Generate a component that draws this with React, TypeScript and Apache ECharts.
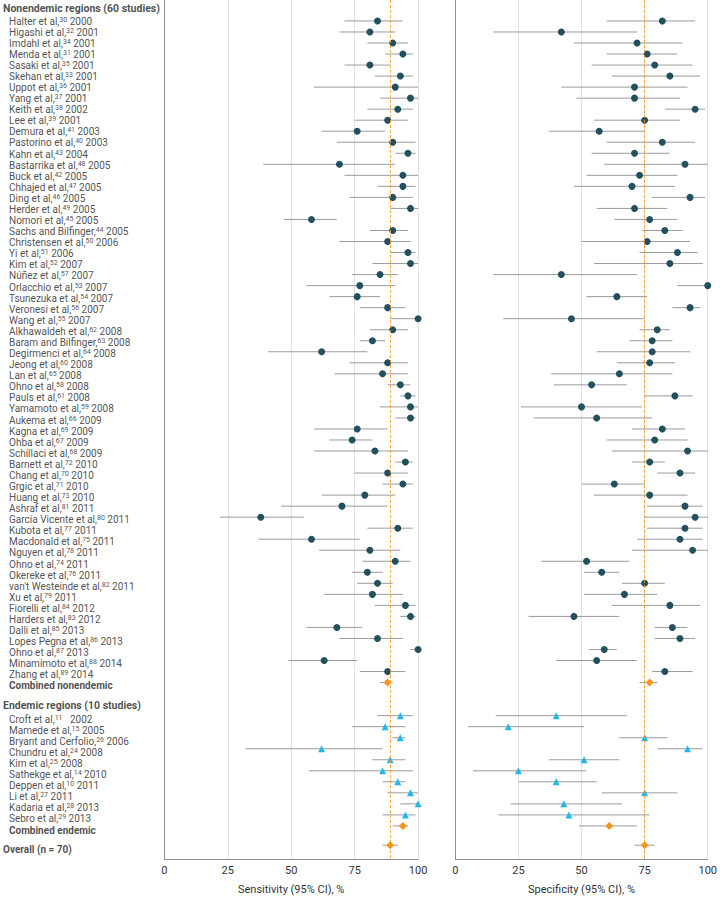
import React, { useEffect, useRef } from "react";
import * as echarts from "echarts";

// ---------- Data ----------
const nonendemicAuthors = [
  "Halter et al,", "Higashi et al,", "Imdahl et al,", "Menda et al,", "Sasaki et al,", "Skehan et al,",
  "Uppot et al,", "Yang et al,", "Keith et al,", "Lee et al,", "Demura et al,", "Pastorino et al,",
  "Kahn et al,", "Bastarrika et al,", "Buck et al,", "Chhajed et al,", "Ding et al,", "Herder et al,",
  "Nomori et al,", "Sachs and Bilfinger,", "Christensen et al,", "Yi et al,", "Kim et al,", "Núñez et al,",
  "Orlacchio et al,", "Tsunezuka et al,", "Veronesi et al,", "Wang et al,", "Alkhawaldeh et al,",
  "Baram and Bilfinger,", "Degirmenci et al,", "Jeong et al,", "Lan et al,", "Ohno et al,", "Pauls et al,",
  "Yamamoto et al,", "Aukema et al,", "Kagna et al,", "Ohba et al,", "Schillaci et al,", "Barnett et al,",
  "Chang et al,", "Grgic et al,", "Huang et al,", "Ashraf et al,", "García Vicente et al,", "Kubota et al,",
  "Macdonald et al,", "Nguyen et al,", "Ohno et al,", "Okereke et al,", "van't Westeinde et al,", "Xu et al,",
  "Fiorelli et al,", "Harders et al,", "Dalli et al,", "Lopes Pegna et al,", "Ohno et al,", "Minamimoto et al,",
  "Zhang et al,",
];
const nonendemicRefs = [
  30, 32, 34, 31, 35, 33, 36, 37, 38, 39, 41, 40, 43, 48, 42, 47, 46, 49, 45, 44, 50, 51, 52, 57, 53, 54, 56, 55,
  62, 63, 64, 60, 65, 58, 61, 59, 66, 69, 67, 68, 72, 70, 71, 73, 81, 80, 77, 75, 78, 74, 76, 82, 79, 84, 83, 85,
  86, 87, 88, 89,
];
const nonendemicYears = [
  2000, 2001, 2001, 2001, 2001, 2001, 2001, 2001, 2002, 2001, 2003, 2003, 2004, 2005, 2005, 2005, 2005, 2005,
  2005, 2005, 2006, 2006, 2007, 2007, 2007, 2007, 2007, 2007, 2008, 2008, 2008, 2008, 2008, 2008, 2008, 2008,
  2009, 2009, 2009, 2009, 2010, 2010, 2010, 2010, 2011, 2011, 2011, 2011, 2011, 2011, 2011, 2011, 2011, 2012,
  2012, 2013, 2013, 2013, 2014, 2014,
];
// [estimate, lower, upper]
const nonendemicSensitivity = [
  [84, 71, 94], [81, 69, 91], [90, 80, 96], [94, 87, 98], [81, 71, 89], [93, 83, 98], [91, 59, 100], [97, 85, 100],
  [92, 80, 98], [88, 75, 96], [76, 62, 87], [90, 68, 99], [96, 91, 99], [69, 39, 91], [94, 71, 100], [94, 84, 99],
  [90, 73, 98], [97, 89, 100], [58, 47, 68], [90, 81, 96], [88, 69, 97], [96, 89, 99], [97, 82, 100], [85, 74, 92],
  [77, 56, 91], [76, 65, 85], [88, 77, 95], [100, 89, 100], [90, 81, 96], [82, 77, 87], [62, 41, 80], [88, 73, 96],
  [86, 67, 96], [93, 88, 97], [96, 93, 99], [97, 85, 100], [97, 91, 99], [76, 59, 88], [74, 65, 82], [83, 59, 96],
  [95, 91, 98], [88, 75, 96], [94, 86, 98], [79, 62, 91], [70, 46, 88], [38, 22, 55], [92, 80, 98], [58, 37, 77],
  [81, 61, 93], [91, 78, 97], [80, 74, 86], [84, 76, 90], [82, 63, 94], [95, 83, 99], [97, 93, 99], [68, 56, 78],
  [84, 69, 94], [100, 97, 100], [63, 49, 76], [88, 77, 95],
];
const nonendemicSpecificity = [
  [82, 60, 95], [42, 15, 72], [72, 47, 90], [76, 60, 88], [79, 54, 94], [85, 62, 97], [71, 42, 92], [71, 48, 89],
  [95, 83, 99], [75, 55, 89], [57, 37, 75], [82, 60, 95], [71, 54, 85], [91, 59, 100], [73, 52, 88], [70, 47, 87],
  [93, 78, 99], [71, 56, 84], [77, 63, 88], [83, 74, 90], [76, 50, 93], [88, 73, 96], [85, 55, 98], [42, 15, 72],
  [100, 88, 100], [64, 52, 76], [93, 86, 97], [46, 19, 75], [80, 73, 85], [78, 69, 86], [78, 56, 93], [77, 64, 87],
  [65, 38, 86], [54, 39, 68], [87, 75, 94], [50, 26, 74], [56, 31, 78], [82, 70, 91], [79, 60, 92], [92, 62, 100],
  [77, 70, 83], [89, 80, 95], [63, 50, 75], [77, 55, 92], [91, 76, 98], [95, 75, 100], [91, 76, 98], [89, 72, 98],
  [94, 70, 100], [52, 34, 69], [58, 51, 65], [75, 66, 83], [67, 51, 80], [85, 62, 97], [47, 29, 65], [86, 79, 92],
  [89, 79, 95], [59, 53, 64], [56, 40, 72], [83, 78, 94],
];
const combinedNonendemicSens = [88, 85, 90];
const combinedNonendemicSpec = [77, 73, 80];

const endemicAuthors = [
  "Croft et al,", "Mamede et al,", "Bryant and Cerfolio,", "Chundru et al,", "Kim et al,", "Sathekge et al,",
  "Deppen et al,", "Li et al,", "Kadaria et al,", "Sebro et al,",
];
const endemicRefs = [11, 15, 26, 24, 25, 14, 10, 27, 28, 29];
const endemicYears = [2002, 2005, 2006, 2008, 2008, 2010, 2011, 2011, 2013, 2013];
const endemicSensitivity = [
  [93, 84, 98], [87, 74, 95], [93, 90, 95], [62, 32, 86], [89, 82, 95], [86, 57, 98], [92, 86, 95], [97, 88, 100],
  [100, 93, 100], [95, 86, 99],
];
const endemicSpecificity = [
  [40, 16, 68], [21, 5, 51], [75, 65, 84], [92, 80, 98], [51, 37, 65], [25, 7, 52], [40, 25, 56], [75, 58, 88],
  [43, 22, 66], [45, 17, 77],
];
const combinedEndemicSens = [94, 90, 96];
const combinedEndemicSpec = [61, 49, 72];
const overallSens = [89, 86, 92];
const overallSpec = [75, 71, 79];

const axisTitles = ["Sensitivity (95% CI), %", "Specificity (95% CI), %"];

// ---------- Styles ----------
const FONT = "Roboto, 'Liberation Sans', sans-serif";
const TEAL = "#22505f";
const BLUE = "#26b7ea";
const ORANGE = "#f7941d";
const CI_GRAY = "#9b9b9b";
const AXIS_GRAY = "#8e8e8e";

type Row = {
  label: string;
  pos: number;
  kind: "header" | "study" | "combined" | "overall";
  marker?: "circle" | "triangle" | "diamond";
  sens?: number[];
  spec?: number[];
};

function buildRows(): Row[] {
  const rows: Row[] = [];
  rows.push({ label: "Nonendemic regions (60 studies)", pos: -1.1, kind: "header" });
  nonendemicAuthors.forEach((a, i) => {
    rows.push({
      label: `${a}{s|${nonendemicRefs[i]}} ${nonendemicYears[i]}`,
      pos: i,
      kind: "study",
      marker: "circle",
      sens: nonendemicSensitivity[i],
      spec: nonendemicSpecificity[i],
    });
  });
  const n = nonendemicAuthors.length;
  rows.push({ label: "Combined nonendemic", pos: n, kind: "combined", marker: "diamond", sens: combinedNonendemicSens, spec: combinedNonendemicSpec });
  rows.push({ label: "Endemic regions (10 studies)", pos: n + 1.8, kind: "header" });
  endemicAuthors.forEach((a, i) => {
    const gap = i === 0 ? "   " : " ";
    rows.push({
      label: `${a}{s|${endemicRefs[i]}}${gap}${endemicYears[i]}`,
      pos: n + 3 + i,
      kind: "study",
      marker: "triangle",
      sens: endemicSensitivity[i],
      spec: endemicSpecificity[i],
    });
  });
  const m = n + 3 + endemicAuthors.length;
  rows.push({ label: "Combined endemic", pos: m, kind: "combined", marker: "diamond", sens: combinedEndemicSens, spec: combinedEndemicSpec });
  rows.push({ label: "Overall (n = 70)", pos: m + 1.75, kind: "overall", marker: "diamond", sens: overallSens, spec: overallSpec });
  return rows;
}

const Y_MIN = -1.9;
const Y_MAX = 76;

export default function App() {
  const ref = useRef<HTMLDivElement>(null);

  useEffect(() => {
    if (!ref.current) return;
    const chart = echarts.init(ref.current, undefined, { renderer: "svg" });
    const rows = buildRows();

    const grids = [
      { left: 0, top: 0, width: 164, height: 863.3 },
      { left: 164.3, top: 0, width: 253.8, height: 863.3 },
      { left: 455.3, top: 0, width: 253, height: 863.3 },
    ];

    const yAxisBase = (gi: number, showLine: boolean) => ({
      type: "value",
      gridIndex: gi,
      inverse: true,
      min: Y_MIN,
      max: Y_MAX,
      axisLine: { show: showLine, onZero: false, lineStyle: { color: AXIS_GRAY, width: 1 } },
      axisTick: { show: false },
      axisLabel: { show: false },
      splitLine: { show: false },
    });

    const xPlotAxis = (gi: number, name: string) => ({
      type: "value",
      gridIndex: gi,
      min: 0,
      max: 100,
      interval: 25,
      name,
      nameLocation: "middle",
      nameGap: 25,
      nameTextStyle: { fontFamily: FONT, fontSize: 11, color: "#333" },
      axisLine: { show: true, onZero: false, lineStyle: { color: AXIS_GRAY, width: 1 } },
      axisTick: { show: false },
      axisLabel: { fontFamily: FONT, fontSize: 11, color: "#333", margin: 6 },
      splitLine: { show: true, lineStyle: { color: "#e2e2e2", width: 1 } },
    });

    const labelData = rows.map((r) => {
      const bold = r.kind !== "study";
      const indent = r.kind === "header" || r.kind === "overall" ? 3 : 9;
      const size = r.kind === "header" ? 10.5 : 10;
      return {
        value: [0, r.pos],
        label: {
          show: true,
          position: "right",
          distance: 0,
          offset: [indent, 0],
          formatter: r.label,
          fontFamily: FONT,
          fontSize: size,
          fontWeight: bold ? "bold" : "normal",
          color: "#222",
          lineHeight: 10,
          rich: {
            s: { fontFamily: FONT, fontSize: 7, lineHeight: 6, verticalAlign: "top", color: "#222" },
          },
        },
      };
    });

    const markerRows = rows.filter((r) => r.marker);

    const ciSeries = (gi: number, key: "sens" | "spec", refVal: number) => ({
      type: "custom",
      xAxisIndex: gi,
      yAxisIndex: gi,
      z: 2,
      silent: true,
      data: markerRows.map((r) => [r.pos, (r as any)[key][1], (r as any)[key][2]]),
      encode: { x: [1, 2], y: 0 },
      renderItem: (params: any, api: any) => {
        const a = api.coord([api.value(1), api.value(0)]);
        const b = api.coord([api.value(2), api.value(0)]);
        return {
          type: "line",
          shape: { x1: a[0], y1: a[1], x2: b[0], y2: b[1] },
          style: { stroke: CI_GRAY, lineWidth: 1 },
        };
      },
      markLine: {
        silent: true,
        symbol: ["none", "none"],
        label: { show: false },
        lineStyle: { type: [3, 2], color: ORANGE, width: 1, opacity: 0.85 },
        data: [{ xAxis: refVal }],
      },
    });

    const pointSeries = (gi: number, key: "sens" | "spec", marker: string, symbol: string, color: string, size: number) => ({
      type: "scatter",
      xAxisIndex: gi,
      yAxisIndex: gi,
      z: 4,
      symbol,
      symbolSize: size,
      itemStyle: { color, opacity: 1 },
      silent: true,
      data: markerRows.filter((r) => r.marker === marker).map((r) => [(r as any)[key][0], r.pos]),
    });

    const series: any[] = [
      {
        type: "scatter",
        xAxisIndex: 0,
        yAxisIndex: 0,
        symbolSize: 0,
        silent: true,
        data: labelData,
      },
    ];
    ([
      [1, "sens", overallSens[0]],
      [2, "spec", overallSpec[0]],
    ] as any[]).forEach(([gi, key, refVal]) => {
      series.push(ciSeries(gi, key, refVal));
      series.push(pointSeries(gi, key, "circle", "circle", TEAL, 7));
      series.push(pointSeries(gi, key, "triangle", "triangle", BLUE, 7));
      series.push(pointSeries(gi, key, "diamond", "diamond", ORANGE, 8));
    });

    chart.setOption({
      animation: false,
      backgroundColor: "#ffffff",
      grid: grids,
      xAxis: [
        { type: "value", gridIndex: 0, min: 0, max: 1, show: false },
        xPlotAxis(1, axisTitles[0]),
        xPlotAxis(2, axisTitles[1]),
      ],
      yAxis: [yAxisBase(0, false), yAxisBase(1, true), yAxisBase(2, true)],
      series,
    });

    return () => chart.dispose();
  }, []);

  return (
    <div
      ref={ref}
      style={{ position: "absolute", left: 0, top: 0, width: 720, height: 900, background: "#fff" }}
    />
  );
}
